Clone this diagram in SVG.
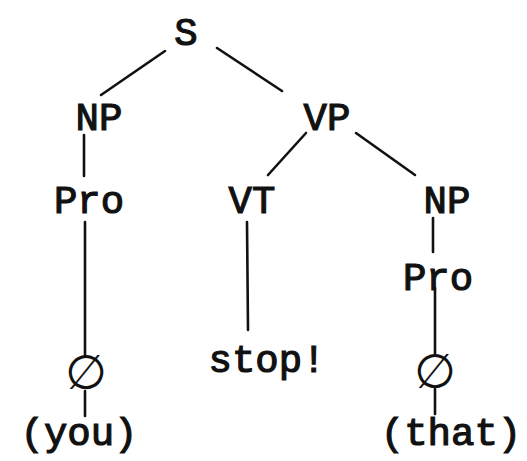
<svg xmlns="http://www.w3.org/2000/svg" width="527" height="461" viewBox="0 0 527 461">
<style>
.t{font-family:"Liberation Mono","Courier New",monospace;font-size:39px;fill:#111;stroke:#111;stroke-width:1.2;text-anchor:middle}
.e{font-family:"DejaVu Sans",sans-serif;font-size:48px;fill:#111;text-anchor:middle}
.c line{stroke:#111;stroke-width:2.6;stroke-linecap:round}
</style>
<rect width="527" height="461" fill="#fff"/>
<g class="c" id="connectors">
<line x1="165" y1="51" x2="101" y2="95"/>
<line x1="217" y1="48" x2="282" y2="91"/>
<line x1="84" y1="135" x2="84" y2="176"/>
<line x1="306" y1="133" x2="268" y2="175"/>
<line x1="356" y1="133" x2="415" y2="175"/>
<line x1="85" y1="222" x2="85" y2="355"/>
<line x1="85" y1="391" x2="85" y2="416"/>
<line x1="247" y1="222" x2="248" y2="330"/>
<line x1="433" y1="218" x2="433" y2="252"/>
<line x1="435" y1="288" x2="435" y2="354"/>
<line x1="435" y1="389" x2="435" y2="414"/>
</g>
<g id="S"><text class="t" x="186" y="45">S</text></g>
<g id="NP1"><text class="t" x="99" y="130">NP</text></g>
<g id="VP"><text class="t" x="327" y="130">VP</text></g>
<g id="Pro1"><text class="t" x="89" y="213">Pro</text></g>
<g id="VT"><text class="t" x="252" y="213">VT</text></g>
<g id="NP2"><text class="t" x="447" y="213">NP</text></g>
<g id="Pro2"><text class="t" x="438" y="290">Pro</text></g>
<g id="null1"><text class="e" x="86" y="389">∅</text></g>
<g id="stop"><text class="t" x="267" y="372">stop!</text></g>
<g id="null2"><text class="e" x="435" y="388">∅</text></g>
<g id="you"><text class="t" x="79" y="445">(you)</text></g>
<g id="that"><text class="t" x="451" y="445">(that)</text></g>
</svg>
